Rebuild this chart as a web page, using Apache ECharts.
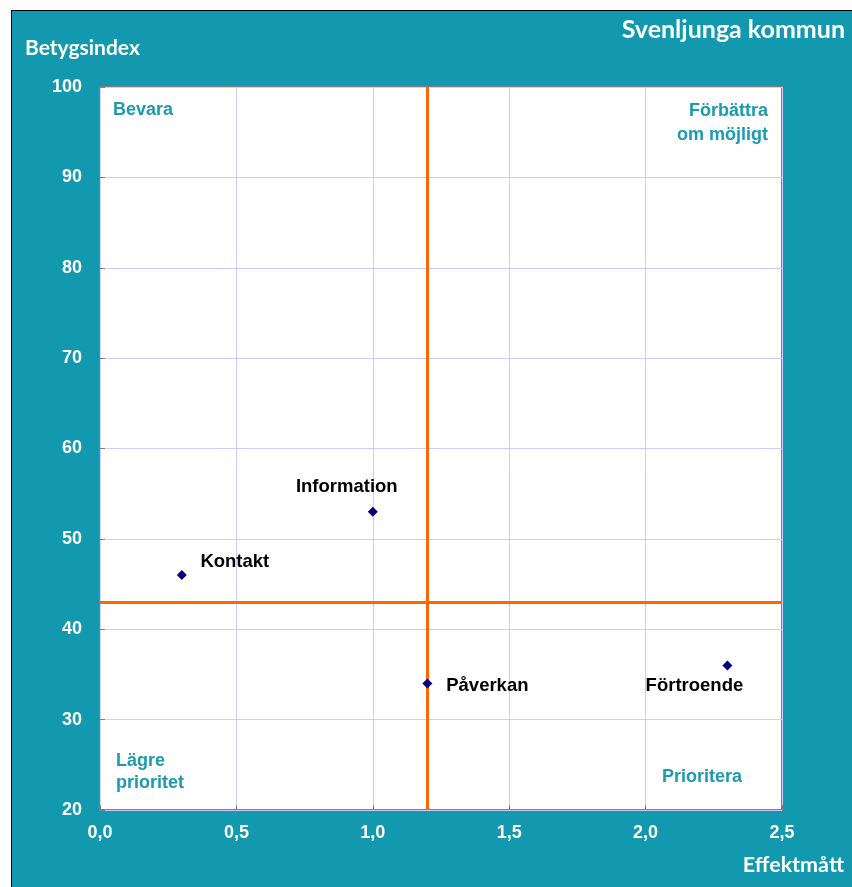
<!DOCTYPE html>
<html><head><meta charset="utf-8">
<script src="https://cdn.jsdelivr.net/npm/echarts@6/dist/echarts.min.js"></script>
<style>
html,body{margin:0;padding:0;background:#fff;}
#bg{position:absolute;left:11px;top:10px;width:841px;height:877px;background:#1399AF;border-top:1px solid #000;border-left:1px solid #000;box-sizing:border-box;}
#c{position:absolute;left:0;top:0;width:852px;height:887px;}
</style></head>
<body><div id="bg"></div><div id="c"></div>
<script>
const names = ['Kontakt','Information','Påverkan','Förtroende'];
const effekt = [0.3, 1.0, 1.2, 2.3];
const betyg = [46, 53, 34, 36];
const refX = 1.2;
const refY = 43;
const xTicks = [0, 0.5, 1.0, 1.5, 2.0, 2.5];
const yTicks = [20, 30, 40, 50, 60, 70, 80, 90, 100];
const labelOffsets = [[53,-13],[-26,-25],[60,2],[-33,21]];

const teal = '#1399AF';
const chart = echarts.init(document.getElementById('c'));
const fmt = v => v.toFixed(1).replace('.', ',');
chart.setOption({
  backgroundColor: 'transparent',
  animation: false,
  grid: {left:100, top:87, width:682, height:723, show:true, backgroundColor:'#fff', borderColor:'#808080', borderWidth:2},
  xAxis: {type:'value', min:xTicks[0], max:xTicks[xTicks.length-1], interval:0.5,
    axisLine:{show:false}, axisTick:{show:true, inside:true, length:5, lineStyle:{color:'#808080'}},
    splitLine:{lineStyle:{color:'#ccccff', width:1}},
    axisLabel:{color:'#fff', fontFamily:'Liberation Sans, Arial', fontWeight:'bold', fontSize:18, margin:14, formatter:fmt}},
  yAxis: {type:'value', min:yTicks[0], max:yTicks[yTicks.length-1], interval:10,
    axisLine:{show:false}, axisTick:{show:true, inside:true, length:5, lineStyle:{color:'#808080'}},
    splitLine:{lineStyle:{color:'#ccccff', width:1}},
    axisLabel:{color:'#fff', fontFamily:'Liberation Sans, Arial', fontWeight:'bold', fontSize:18, margin:18}},
  series: [{
    type:'scatter', symbol:'diamond', symbolSize:10,
    itemStyle:{color:'#000080', opacity:1},
    emphasis:{disabled:true},
    data: names.map((n,i)=>({value:[effekt[i], betyg[i]], name:n,
      label:{show:true, position:'inside', offset:labelOffsets[i], formatter:n,
        color:'#000', opacity:1, fontFamily:'Liberation Sans, Arial', fontWeight:'bold', fontSize:18.5}})),
    markLine: {silent:true, symbol:'none', label:{show:false},
      lineStyle:{color:'#FF6600', width:3, type:'solid', opacity:1},
      data:[{xAxis:refX},{yAxis:refY}]},
    z:5
  }],
  graphic: [
    {type:'text', x:845, y:30, z:10, style:{text:'Svenljunga kommun', fill:'#fff', font:'bold 25px Lato', textAlign:'right', textVerticalAlign:'middle'}},
    {type:'text', x:25, y:48, z:10, style:{text:'Betygsindex', fill:'#fff', font:'bold 21px Lato', textAlign:'left', textVerticalAlign:'middle'}},
    {type:'text', x:844, y:865, z:10, style:{text:'Effektmått', fill:'#fff', font:'bold 21.5px Lato', textAlign:'right', textVerticalAlign:'middle'}},
    {type:'text', x:113, y:110, z:10, style:{text:'Bevara', fill:'#1A9BB0', font:'bold 18px "Liberation Sans"', textAlign:'left', textVerticalAlign:'middle'}},
    {type:'text', x:768, y:99, z:10, style:{text:'Förbättra\nom möjligt', fill:'#1A9BB0', font:'bold 18px "Liberation Sans"', lineHeight:24, textAlign:'right', textVerticalAlign:'top'}},
    {type:'text', x:116, y:750, z:10, style:{text:'Lägre\nprioritet', fill:'#1A9BB0', font:'bold 18px "Liberation Sans"', lineHeight:22, textAlign:'left', textVerticalAlign:'top'}},
    {type:'text', x:662, y:777, z:10, style:{text:'Prioritera', fill:'#1A9BB0', font:'bold 18px "Liberation Sans"', textAlign:'left', textVerticalAlign:'middle'}}
  ]
});
</script></body></html>
